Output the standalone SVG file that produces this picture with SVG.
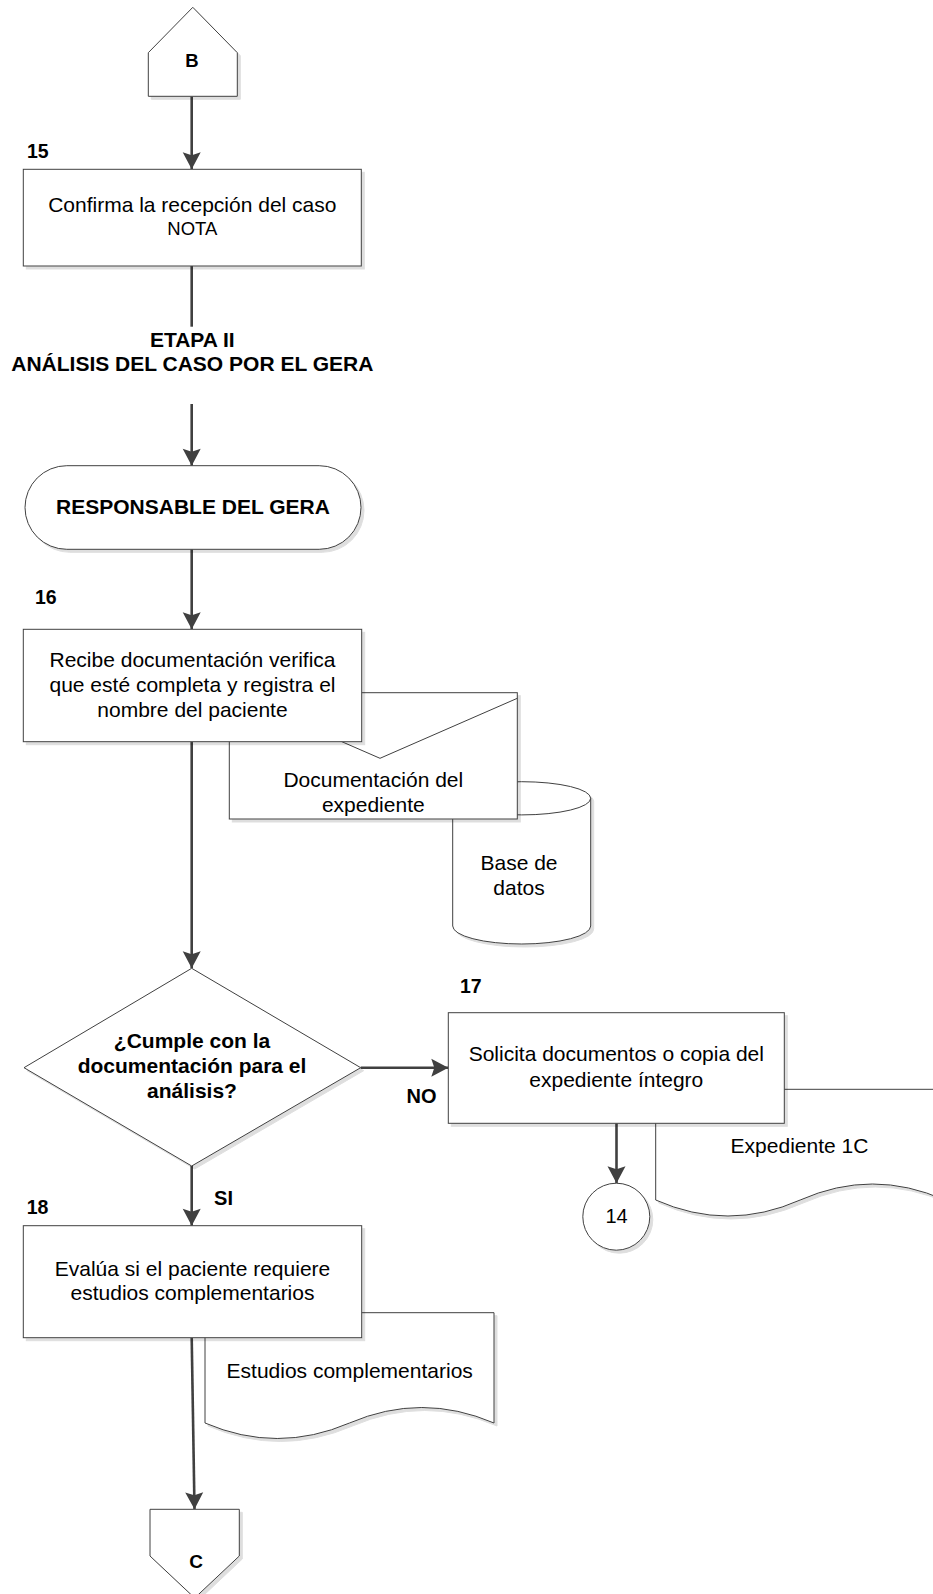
<svg xmlns="http://www.w3.org/2000/svg" width="933" height="1594" viewBox="0 0 933 1594">
<style>
.s{fill:#fff;stroke:#404040;stroke-width:1;filter:url(#sh)}
.ln{fill:none;stroke:#404040;stroke-width:1}
.c{fill:none;stroke:#404040;stroke-width:2.6}
.a{marker-end:url(#ah)}
.t{font-family:"Liberation Sans",Arial,Helvetica,sans-serif;font-size:21px;text-anchor:middle;fill:#000}
.b{font-weight:bold}
.n{font-family:"Liberation Sans",Arial,Helvetica,sans-serif;font-size:19.5px;font-weight:bold;fill:#000}
</style>
<defs>
<filter id="sh" x="-10%" y="-10%" width="125%" height="125%">
<feOffset in="SourceAlpha" dx="3" dy="3" result="o"/>
<feComponentTransfer in="o" result="f"><feFuncA type="linear" slope="0.13"/></feComponentTransfer>
<feMerge><feMergeNode in="f"/><feMergeNode in="SourceGraphic"/></feMerge>
</filter>
<marker id="ah" markerUnits="userSpaceOnUse" markerWidth="20" markerHeight="20" viewBox="0 -10 18 20" refX="17" refY="0" orient="auto">
<path d="M0,-9 L17,0 L0,9 L3,0 Z" fill="#404040"/>
</marker>
</defs>

<g id="connectors">
<line class="c a" x1="191.7" y1="96.5" x2="191.7" y2="169.3"/>
<line class="c" x1="191.7" y1="266" x2="191.7" y2="326.7"/>
<line class="c a" x1="191.7" y1="404" x2="191.7" y2="465.7"/>
<line class="c a" x1="191.7" y1="549.3" x2="191.7" y2="629.3"/>
<line class="c a" x1="191.7" y1="741.7" x2="191.7" y2="968.3"/>
<line class="c a" x1="360.7" y1="1067.7" x2="448.3" y2="1067.7"/>
<line class="c a" x1="191.7" y1="1166" x2="191.7" y2="1225.7"/>
<line class="c a" x1="616.5" y1="1123.3" x2="616.5" y2="1183.3"/>
<line class="c a" x1="191.7" y1="1337.7" x2="194.5" y2="1509.3"/>
</g>

<g id="node-B">
<path class="s" d="M192.8,7.3 L237.3,52.7 L237.3,96.3 L148.3,96.3 L148.3,52.7 Z"/>
<text class="t b" x="192" y="66.7" style="font-size:18.5px">B</text>
</g>

<g id="node-15">
<text class="n" x="27" y="158">15</text>
<rect class="s" x="23.3" y="169.3" width="338" height="96.7"/>
<text class="t" x="192.3" y="212.3">Confirma la recepción del caso</text>
<text class="t" x="192.3" y="235" style="font-size:18.5px">NOTA</text>
</g>

<g id="etapa">
<text class="t b" x="192.3" y="346.7">ETAPA II</text>
<text class="t b" x="192.3" y="370.7">ANÁLISIS DEL CASO POR EL GERA</text>
</g>

<g id="node-responsable">
<rect class="s" x="25" y="465.7" width="336" height="83.6" rx="41.8" ry="41.8"/>
<text class="t b" x="193" y="514.3">RESPONSABLE DEL GERA</text>
</g>

<g id="node-basedatos">
<path class="s" d="M452.7,798.3 L452.7,926 A69,18 0 0 0 590.7,926 L590.7,798.3 A69,16.6 0 0 0 452.7,798.3 Z"/>
<path class="ln" d="M452.7,798.3 A69,16.6 0 0 0 590.7,798.3"/>
<text class="t" x="519" y="870">Base de</text>
<text class="t" x="519" y="895">datos</text>
</g>

<g id="node-documentacion">
<rect class="s" x="229.3" y="692.7" width="288" height="126.3"/>
<polyline class="ln" points="229.3,692.7 380,758.3 517.3,698.3"/>
<text class="t" x="373.3" y="787.3">Documentación del</text>
<text class="t" x="373.3" y="811.7">expediente</text>
</g>

<g id="node-16">
<text class="n" x="35" y="604">16</text>
<rect class="s" x="23.3" y="629.3" width="338.4" height="112.4"/>
<text class="t" x="192.5" y="666.7">Recibe documentación verifica</text>
<text class="t" x="192.5" y="691.5">que esté completa y registra el</text>
<text class="t" x="192.5" y="716.5">nombre del paciente</text>
</g>

<g id="node-decision">
<path class="s" d="M191.7,968.3 L360.7,1067.7 L191.7,1166 L24,1067.7 Z"/>
<text class="t b" x="192" y="1048.3">¿Cumple con la</text>
<text class="t b" x="192" y="1073.3">documentación para el</text>
<text class="t b" x="192" y="1098.3">análisis?</text>
<text class="t b" x="421.5" y="1102.7" style="font-size:20px">NO</text>
<text class="t b" x="223.5" y="1205" style="font-size:20px">SI</text>
</g>

<g id="node-expediente1c">
<path class="s" d="M655.7,1200 L655.7,1089.3 L944.7,1089.3 L944.7,1200 Q872.5,1168 800.2,1200 Q728,1232 655.7,1200 Z"/>
<text class="t" x="799.5" y="1153.3">Expediente 1C</text>
</g>

<g id="node-17">
<text class="n" x="460" y="993.3">17</text>
<rect class="s" x="448.3" y="1012.7" width="336" height="110.6"/>
<text class="t" x="616.3" y="1061">Solicita documentos o copia del</text>
<text class="t" x="616.3" y="1086.5">expediente íntegro</text>
</g>

<g id="node-14">
<circle class="s" cx="616.3" cy="1216.7" r="33.5"/>
<text class="t" x="616.5" y="1222.7" style="font-size:20px">14</text>
</g>

<g id="node-estudios">
<path class="s" d="M205,1423 L205,1312.7 L494,1312.7 L494,1423 Q421.75,1392 349.5,1423 Q277.25,1454 205,1423 Z"/>
<text class="t" x="349.7" y="1378.3">Estudios complementarios</text>
</g>

<g id="node-18">
<text class="n" x="26.7" y="1214.3">18</text>
<rect class="s" x="23.3" y="1225.7" width="338.4" height="112"/>
<text class="t" x="192.5" y="1276">Evalúa si el paciente requiere</text>
<text class="t" x="192.5" y="1300">estudios complementarios</text>
</g>

<g id="node-C">
<path class="s" d="M150,1509.3 L239.3,1509.3 L239.3,1556 L194.7,1598 L150,1556 Z"/>
<text class="t b" x="196" y="1568.3" style="font-size:19px">C</text>
</g>
</svg>
